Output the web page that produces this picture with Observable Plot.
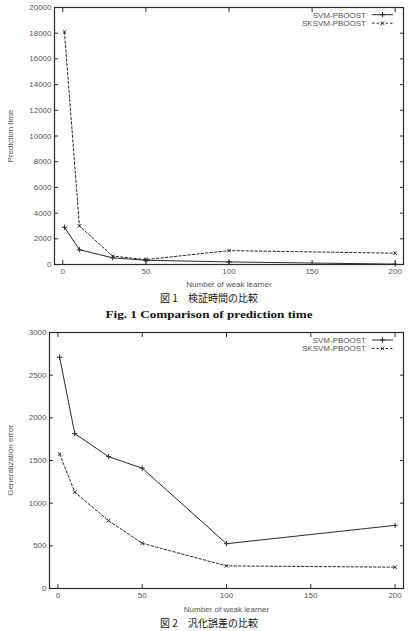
<!DOCTYPE html>
<html><head><meta charset="utf-8">
<script src="https://cdn.jsdelivr.net/npm/d3@7"></script>
<script src="https://cdn.jsdelivr.net/npm/@observablehq/plot@0.6"></script>
<style>
body{margin:0;background:#fff;}
#wrap{position:relative;width:418px;height:631px;overflow:hidden;background:#fff;}
#wrap > svg, #wrap > div{position:absolute;}
.cap{left:0;width:418px;text-align:center;font-family:"Noto Sans CJK JP",sans-serif;font-size:10px;color:#111;line-height:12px;}
</style></head><body><div id="wrap"></div>
<script>
// ---- data ----
const seriesNames = ["SVM-PBOOST", "SKSVM-PBOOST"];
const learners = [1, 10, 30, 50, 100, 200];
const timeSVM = [2900, 1150, 520, 330, 200, 30];
const timeSKSVM = [18100, 3000, 650, 380, 1080, 880];
const errSVM = [2710, 1815, 1545, 1410, 525, 740];
const errSKSVM = [1575, 1130, 795, 530, 265, 250];
const xTicks = [0, 50, 100, 150, 200];
const timeTicks = [0, 2000, 4000, 6000, 8000, 10000, 12000, 14000, 16000, 18000, 20000];
const errTicks = [0, 500, 1000, 1500, 2000, 2500, 3000];
const xLabel = "Number of weak learner";
const yLabel1 = "Prediction time";
const yLabel2 = "Generalization error";
const caption1 = "図 1　検証時間の比較";
const caption1en = "Fig. 1  Comparison of prediction time";
const caption2 = "図 2　汎化誤差の比較";

const ink = "#2a2a2a";
const textInk = "#555";
const fmt = d => String(d);

function rows(xs, ys, s) { return xs.map((x, i) => ({x, y: ys[i], s})); }

function chart({a, b, yTicks, yDomain, yLabel, height, mt, mb, ml, mr, xLabelOffset, yLabelOffset}) {
  const A = rows(learners, a, seriesNames[0]);
  const B = rows(learners, b, seriesNames[1]);
  return Plot.plot({
    width: 418, height,
    marginTop: mt, marginBottom: mb, marginLeft: ml, marginRight: mr,
    style: {fontFamily: "'Liberation Sans', Arial, sans-serif", fontSize: "8px", color: textInk, background: "white", overflow: "visible"},
    x: {domain: [-5, 205]},
    y: {domain: yDomain},
    marks: [
      Plot.axisX(xTicks, {anchor: "bottom", tickSize: 0, tickPadding: 4, tickFormat: fmt, label: xLabel, labelAnchor: "center", labelArrow: "none", labelOffset: xLabelOffset}),
      Plot.axisX(xTicks, {anchor: "bottom", tickSize: -4, tickFormat: () => "", label: null, stroke: ink}),
      Plot.axisX(xTicks, {anchor: "top", tickSize: -4, tickFormat: () => "", label: null, stroke: ink}),
      Plot.axisY(yTicks, {anchor: "left", tickSize: 0, tickPadding: 3, tickFormat: fmt, label: yLabel, labelAnchor: "center", labelArrow: "none", labelOffset: yLabelOffset}),
      Plot.axisY(yTicks, {anchor: "left", tickSize: -4, tickFormat: () => "", label: null, stroke: ink}),
      Plot.axisY(yTicks, {anchor: "right", tickSize: -4, tickFormat: () => "", label: null, stroke: ink}),
      Plot.line(A, {x: "x", y: "y", stroke: ink, strokeWidth: 1}),
      Plot.line(B, {x: "x", y: "y", stroke: ink, strokeWidth: 1, strokeDasharray: "2.5,2"}),
      Plot.dot(A, {x: "x", y: "y", symbol: "plus", r: 1.8, stroke: ink, strokeWidth: 1}),
      Plot.dot(B, {x: "x", y: "y", symbol: "times", r: 1.8, stroke: ink, strokeWidth: 1}),
      Plot.frame({stroke: ink, strokeWidth: 1.2})
    ]
  });
}

const wrap = document.getElementById("wrap");

const c1 = chart({a: timeSVM, b: timeSKSVM, yTicks: timeTicks, yDomain: [0, 20000], yLabel: yLabel1,
  height: 292, mt: 7, mb: 28, ml: 54, mr: 15, xLabelOffset: 22, yLabelOffset: 47});
c1.style.left = "0px"; c1.style.top = "0px";
wrap.appendChild(c1);

const c2 = chart({a: errSVM, b: errSKSVM, yTicks: errTicks, yDomain: [0, 3000], yLabel: yLabel2,
  height: 296, mt: 12, mb: 28, ml: 49, mr: 15, xLabelOffset: 23, yLabelOffset: 42});
c2.style.left = "0px"; c2.style.top = "320px";
wrap.appendChild(c2);

// legends
function legend(svg, top) {
  const g = d3.select(svg).append("g").attr("font-family", "'Liberation Sans', Arial, sans-serif").attr("font-size", 8).attr("fill", textInk);
  seriesNames.forEach((name, i) => {
    const y = top + i * 8.5;
    g.append("text").attr("x", 366).attr("y", y).attr("dy", "0.35em").attr("text-anchor", "end").text(name);
    g.append("line").attr("x1", 372).attr("x2", 393).attr("y1", y).attr("y2", y)
      .attr("stroke", ink).attr("stroke-width", 1).attr("stroke-dasharray", i ? "2.5,2" : null);
    const s = d3.symbol(i ? d3.symbolTimes : d3.symbolPlus, Math.PI * 1.8 * 1.8)();
    g.append("path").attr("d", s).attr("transform", `translate(382.5,${y})`).attr("fill", "none").attr("stroke", ink);
  });
}
legend(c1, 14.7);
legend(c2, 20);

// captions
const cap1 = document.createElement("div");
cap1.className = "cap"; cap1.style.top = "292px"; cap1.textContent = caption1;
wrap.appendChild(cap1);

const en = d3.create("svg").attr("width", 418).attr("height", 14).style("left", "0px").style("top", "307px");
en.append("text").attr("x", 209).attr("y", 11).attr("text-anchor", "middle")
  .attr("font-family", "'Liberation Serif', serif").attr("font-weight", "bold").attr("font-size", 10)
  .attr("fill", "#111").attr("textLength", 207).attr("lengthAdjust", "spacingAndGlyphs").text(caption1en);
wrap.appendChild(en.node());

const cap2 = document.createElement("div");
cap2.className = "cap"; cap2.style.top = "617px"; cap2.textContent = caption2;
wrap.appendChild(cap2);
</script>
</body></html>
